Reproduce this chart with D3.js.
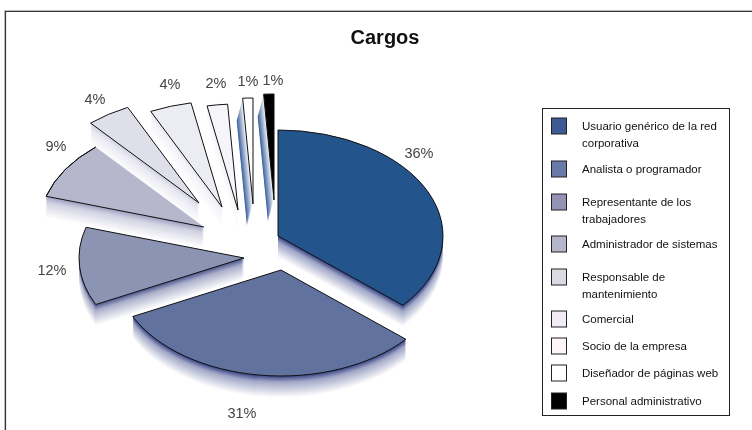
<!DOCTYPE html>
<html lang="es">
<head>
    <meta charset="UTF-8">
    <title>Cargos</title>
    <script src="https://d3js.org/d3.v7.min.js"></script>
    <style>
        html, body { margin: 0; padding: 0; background: #fff; }
        svg { display: block; }
        text { font-family: "Liberation Sans", Arial, sans-serif; }
        .soft { filter: blur(0.35px); }
    </style>
</head>
<body>
    <script>
        // data
        var categories = ["Usuario genérico de la red corporativa", "Analista o programador", "Representante de los trabajadores", "Administrador de sistemas", "Responsable de mantenimiento", "Comercial", "Socio de la empresa", "Diseñador de páginas web", "Personal administrativo"];
        var legendLines = [["Usuario genérico de la red", "corporativa"], ["Analista o programador"], ["Representante de los", "trabajadores"], ["Administrador de sistemas"], ["Responsable de", "mantenimiento"], ["Comercial"], ["Socio de la empresa"], ["Diseñador de páginas web"], ["Personal administrativo"]];
        var values = [36.3, 31.4, 11.9, 8.9, 4.3, 4.1, 2.0, 1.0, 1.0];
        var percentLabels = ["36%", "31%", "12%", "9%", "4%", "4%", "2%", "1%", "1%"];

        // styles and layout
        var sliceColors = ["#24548c", "#61729f", "#8c94b4", "#b6b6cd", "#dfdfea", "#ececf3", "#f6f6fa", "#ffffff", "#000000"];
        var swatchColors = ["#3d5a94", "#6a7aa8", "#9493b5", "#b5b5cc", "#ddd9e3", "#f1ecf3", "#fcf6fb", "#ffffff", "#000000"];
        var shadowColors = ["#2c3a80", "#2f3c80", "#454f8a", "#9a9abf", "#cfcfe2", "#e6e6f1", "#eeeef5", "#3f62a0", "#3f62a0"];
        // where each slice's point ends up after being pulled out
        var apexX = [278, 281, 244, 204, 199, 222, 238, 253, 274];
        var apexY = [236, 270, 258, 227, 203, 207, 210, 204, 200];
        var labelX = [419, 242, 52, 56, 95, 170, 216, 248, 273];
        var labelY = [153, 413, 270, 146, 99, 84, 83, 81, 80];
        var legendY = [126, 169, 202, 244, 277, 319, 346, 373, 401];
        var drawOrder = [8, 7, 6, 5, 4, 3, 2, 0, 1];

        var width = 752, height = 430;
        var rx = 165, ry = 106, depth = 22;

        var svg = d3.select("body").append("svg").attr("width", width).attr("height", height);

        // chart frame, only the top and left sides are in the picture
        svg.append("path").attr("d", "M5.5 430V11.5H752").attr("fill", "none").attr("stroke", "#333").attr("stroke-width", 1.2);
        svg.append("path").attr("d", "M4.5 430V10.5H752").attr("fill", "none").attr("stroke", "#bbb").attr("stroke-width", 1);

        // the two 1% wedges are drawn at the same angle in the picture, so the
        // pie is laid out without the first one and it borrows the last one's angles
        var pie = d3.pie().sort(null)(values.filter(function (v, i) { return i != 7; }));
        pie.splice(7, 0, pie[7]);

        var arc = d3.arc().innerRadius(0).outerRadius(ry);
        var rim = d3.arc().innerRadius(ry).outerRadius(ry);
        var squash = "scale(" + (rx / ry) + ",1)";

        var pieG = svg.append("g").attr("class", "soft");

        drawOrder.forEach(function (i) {
            var d = pie[i];
            var thin = i >= 7;
            // thin slices throw their shade down and to the left, pale at the slice and blue far away
            var vx = thin ? -6 : 0, vy = thin ? 22 : depth;
            var shade = d3.scaleLinear().domain(thin ? [0, 1] : [0, 0.3, 1])
                .range(thin ? ["#ffffff", shadowColors[i]] : [shadowColors[i], d3.interpolateRgb(shadowColors[i], "#fff")(0.55), "#ffffff"]);

            for (var s = depth; s >= 1; s--) {
                var t = s / depth;
                pieG.append("path")
                    .attr("d", arc(d))
                    .attr("transform", "translate(" + (apexX[i] + vx * t) + "," + (apexY[i] + vy * t) + ") " + squash)
                    .attr("fill", shade(t));
            }

            var g = pieG.append("g").attr("transform", "translate(" + apexX[i] + "," + apexY[i] + ") " + squash);
            g.append("path").attr("d", arc(d)).attr("fill", sliceColors[i])
                .attr("stroke", i == 3 ? "none" : "#111").attr("stroke-width", 1)
                .attr("stroke-linejoin", "round")
                .attr("vector-effect", "non-scaling-stroke");

            // the 9% slice has no line on its upper side
            if (i == 3) {
                var p = d3.pointRadial(d.startAngle, ry);
                g.append("path").attr("d", rim(d)).attr("fill", "none").attr("stroke", "#111").attr("vector-effect", "non-scaling-stroke");
                g.append("line").attr("x1", 0).attr("y1", 0).attr("x2", p[0]).attr("y2", p[1]).attr("stroke", "#111").attr("vector-effect", "non-scaling-stroke");
            }
        });

        var textG = svg.append("g").attr("class", "soft");

        textG.append("text").attr("x", 385).attr("y", 44).attr("text-anchor", "middle")
            .attr("font-size", 20).attr("font-weight", "bold").attr("fill", "#111").text("Cargos");

        textG.selectAll(".pct").data(percentLabels).enter().append("text").attr("class", "pct")
            .attr("x", function (d, i) { return labelX[i]; })
            .attr("y", function (d, i) { return labelY[i] + 5; })
            .attr("text-anchor", "middle").attr("font-size", 14.5).attr("fill", "#444")
            .text(function (d) { return d; });

        // legend
        svg.append("rect").attr("x", 542.5).attr("y", 108.5).attr("width", 187).attr("height", 307)
            .attr("fill", "#fff").attr("stroke", "#222");

        var rows = svg.append("g").attr("class", "soft").selectAll("g").data(categories).enter().append("g")
            .attr("transform", function (d, i) { return "translate(0," + legendY[i] + ")"; });

        rows.append("rect").attr("x", 551.5).attr("y", -8).attr("width", 15).attr("height", 16)
            .attr("fill", function (d, i) { return swatchColors[i]; })
            .attr("stroke", "#222").attr("stroke-width", 1);

        rows.append("text").attr("font-size", 11.5).attr("fill", "#111")
            .selectAll("tspan").data(function (d, i) { return legendLines[i]; }).enter().append("tspan")
            .attr("x", 582).attr("y", function (d, j) { return 4 + j * 17; })
            .text(function (d) { return d; });
    </script>
</body>
</html>
